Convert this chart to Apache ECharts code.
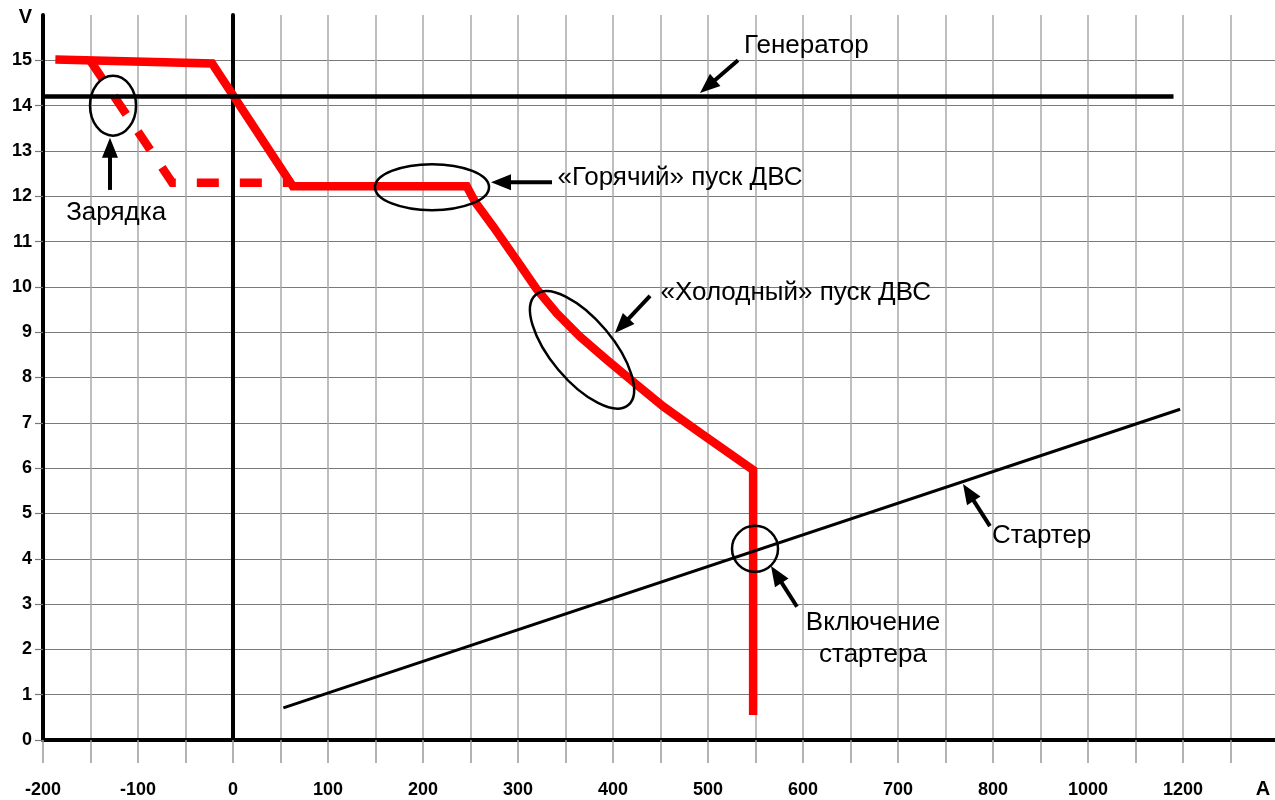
<!DOCTYPE html>
<html><head><meta charset="utf-8">
<script src="https://cdn.jsdelivr.net/npm/echarts@6/dist/echarts.min.js"></script>
<style>html,body{margin:0;padding:0;background:#fff}#c{width:1275px;height:800px}</style>
</head><body><div id="c"></div>
<script>
// ---- data ----
const xTickLabels = ['-200','-100','0','100','200','300','400','500','600','700','800','1000','1200'];
const yTickLabels = ['0','1','2','3','4','5','6','7','8','9','10','11','12','13','14','15'];
const hotX = [-187, -22, 63, 246, 254.7, 274, 298.6, 319.7, 340.7, 365.3, 393.4, 425, 453, 491.6, 547.5, 547.5];
const hotY = [15.02, 14.93, 12.22, 12.22, 11.88, 11.33, 10.59, 9.95, 9.42, 8.90, 8.39, 7.84, 7.36, 6.78, 5.96, 0.55];
const chargeX = [-150.5, -64, 63];
const chargeY = [15.0, 12.3, 12.3];
const genX = [-200, 990];
const genY = [14.2, 14.2];
const starterX = [53, 997];
const starterY = [0.71, 7.30];

// annotation anchors in data coordinates
const ellipseNotes = [
  {at: [-126.3, 14.0], rx: 23, ry: 30, rot: 0},
  {at: [209.5, 12.2], rx: 57, ry: 23, rot: 0},
  {at: [367.4, 8.61], rx: 72, ry: 31, rot: -50},
  {at: [549.5, 4.22], rx: 23, ry: 23, rot: 0}
];
const arrowNotes = [
  {from: [-129.5, 12.14], to: [-129.5, 13.29]},
  {from: [335.8, 12.31], to: [271.6, 12.31]},
  {from: [439, 9.80], to: [402, 8.98]},
  {from: [531.6, 15.0], to: [491.6, 14.28]},
  {from: [796.8, 4.72], to: [768.4, 5.65]},
  {from: [593.7, 2.94], to: [566.3, 3.84]}
];
const textNotes = [
  {at: [-123, 11.64], text: 'Зарядка', align: 'center'},
  {at: [341.5, 12.4], text: '«Горячий» пуск ДВС', align: 'left'},
  {at: [450, 9.86], text: '«Холодный» пуск ДВС', align: 'left'},
  {at: [538, 15.32], text: 'Генератор', align: 'left'},
  {at: [799, 4.50], text: 'Стартер', align: 'left'},
  {at: [673.7, 2.23], text: 'Включение\nстартера', align: 'center'}
];

const pairs = (xs, ys) => xs.map((x, i) => [x, ys[i]]);
const FONT = 'Liberation Sans, Arial, sans-serif';

const chart = echarts.init(document.getElementById('c'), null, {renderer: 'canvas'});
const option = {
  animation: false,
  backgroundColor: '#fff',
  grid: {left: 43, top: 15, width: 1235, height: 725, containLabel: false, outerBoundsMode: 'none'},
  xAxis: {
    type: 'value', min: -200, max: 1100, interval: 50,
    axisLine: {show: true, onZero: true, lineStyle: {color: '#000', width: 4}},
    axisTick: {show: true, length: 23, lineStyle: {color: '#999', width: 1.5}},
    axisLabel: {
      margin: 41, fontSize: 18, fontWeight: 'bold', color: '#000', fontFamily: FONT,
      formatter: v => (v % 100 === 0 ? (xTickLabels[(v + 200) / 100] || '') : '')
    },
    splitLine: {show: true, showMaxLine: false, lineStyle: {color: '#a8a8a8', width: 1.5}},
    name: 'A', nameLocation: 'end', nameGap: -15,
    nameTextStyle: {fontSize: 20, fontWeight: 'bold', color: '#000', fontFamily: FONT, align: 'center', verticalAlign: 'top', padding: [39, 0, 0, 0]}
  },
  yAxis: [{
    type: 'value', min: 0, max: 16, interval: 1, position: 'left',
    axisLine: {show: true, onZero: false, lineStyle: {color: '#000', width: 4}},
    axisTick: {show: true, length: 8, lineStyle: {color: '#777', width: 1.2}},
    axisLabel: {
      margin: 11, fontSize: 18, fontWeight: 'bold', color: '#000', fontFamily: FONT, showMaxLabel: false,
      formatter: v => (yTickLabels[v] !== undefined ? yTickLabels[v] : '')
    },
    splitLine: {show: true, showMaxLine: false, lineStyle: {color: '#7a7a7a', width: 1.2}},
    name: 'V', nameLocation: 'end', nameGap: -2,
    nameTextStyle: {fontSize: 20, fontWeight: 'bold', color: '#000', fontFamily: FONT, align: 'right', verticalAlign: 'middle', padding: [0, 11, 0, 0]}
  }, {
    type: 'value', min: 0, max: 16, interval: 1, position: 'left',
    axisLine: {show: true, onZero: true, lineStyle: {color: '#000', width: 4}},
    axisTick: {show: false}, axisLabel: {show: false}, splitLine: {show: false}
  }],
  series: [
    {type: 'line', data: pairs(chargeX, chargeY), symbol: 'none', silent: true, z: 3,
     lineStyle: {color: '#ff0000', width: 8.5, type: [22, 21], join: 'miter', cap: 'butt'}},
    {type: 'line', data: pairs(hotX, hotY), symbol: 'none', silent: true, z: 3,
     lineStyle: {color: '#ff0000', width: 8.5, join: 'miter', cap: 'butt'}},
    {type: 'line', data: pairs(genX, genY), symbol: 'none', silent: true, z: 4,
     lineStyle: {color: '#000', width: 4.5, cap: 'butt'}},
    {type: 'line', data: pairs(starterX, starterY), symbol: 'none', silent: true, z: 4,
     lineStyle: {color: '#000', width: 3, cap: 'butt'}}
  ]
};
chart.setOption(option);

const px = p => chart.convertToPixel({gridIndex: 0}, p);
const graphics = [];
ellipseNotes.forEach(e => {
  const c = px(e.at);
  graphics.push({type: 'ellipse', x: c[0], y: c[1], rotation: e.rot * Math.PI / 180, silent: true, z: 10,
    shape: {cx: 0, cy: 0, rx: e.rx, ry: e.ry},
    style: {fill: 'none', stroke: '#000', lineWidth: 2.5}});
});
arrowNotes.forEach(a => {
  const t = px(a.from), h = px(a.to);
  const dx = h[0] - t[0], dy = h[1] - t[1];
  const len = Math.hypot(dx, dy), ux = dx / len, uy = dy / len;
  const L = 20, W = 8;
  const bx = h[0] - ux * L, by = h[1] - uy * L;
  graphics.push({type: 'line', silent: true, z: 10,
    shape: {x1: t[0], y1: t[1], x2: bx + ux * 2, y2: by + uy * 2},
    style: {stroke: '#000', lineWidth: 4}});
  graphics.push({type: 'polygon', silent: true, z: 10,
    shape: {points: [[h[0], h[1]], [bx - uy * W, by + ux * W], [bx + uy * W, by - ux * W]]},
    style: {fill: '#000'}});
});
textNotes.forEach(n => {
  const c = px(n.at);
  graphics.push({type: 'text', x: c[0], y: c[1], silent: true, z: 11,
    style: {text: n.text, font: '26px ' + FONT, fill: '#000', align: n.align, verticalAlign: 'middle', lineHeight: 32}});
});
chart.setOption({graphic: {elements: graphics}});
</script>
</body></html>
